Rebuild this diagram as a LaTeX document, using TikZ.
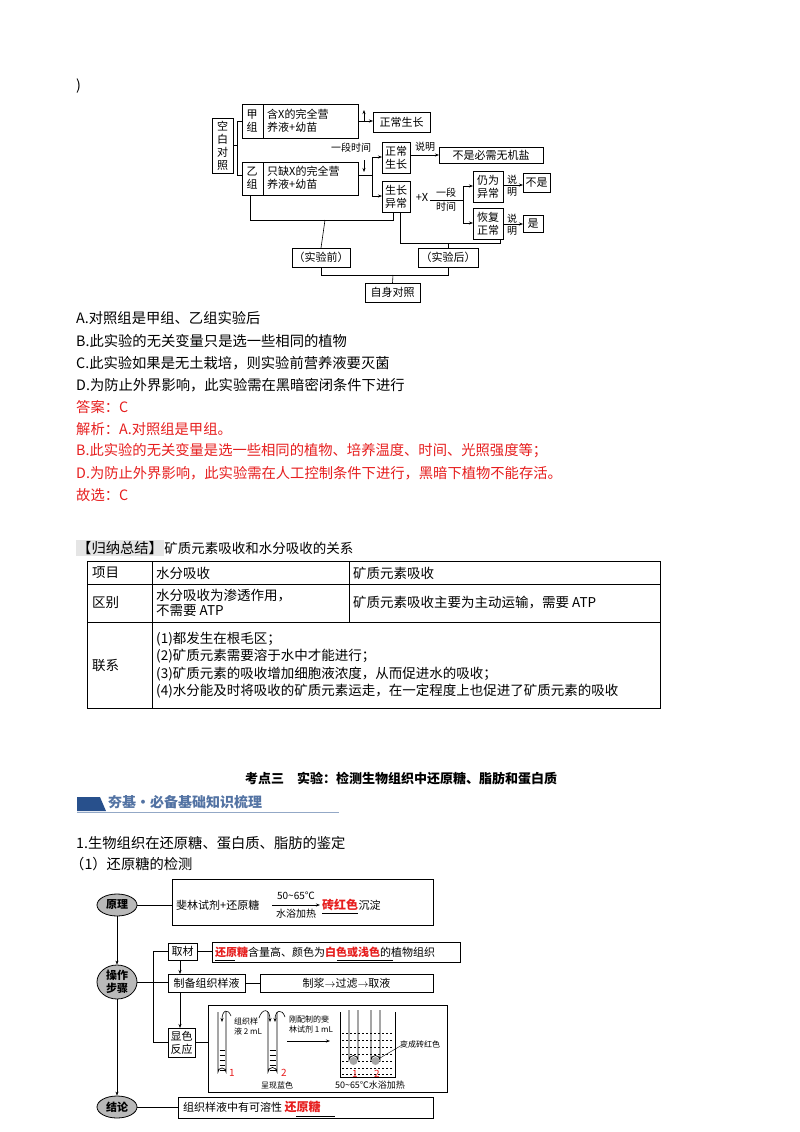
\documentclass[tikz,border=0pt]{standalone}
\usepackage{fontspec}
\setmainfont{Noto Sans CJK SC}
\usetikzlibrary{arrows.meta,shapes.geometric}
\definecolor{ansred}{RGB}{230,30,30}
\definecolor{bannerblue}{RGB}{40,80,140}
\newcommand\Bx[7][]{\node[box,#1,minimum width={(#5-#3)*1pt},minimum height={(#6-#4)*1pt}] (#2) at ({(#3+#5)/2},{(#4+#6)/2}) {#7};}
\begin{document}
\begin{tikzpicture}[x=1pt,y=-1pt,
  box/.style={draw,line width=0.6pt,inner sep=0pt,outer sep=0pt,align=center,font=\fontsize{11}{13}\selectfont},
  ln/.style={line width=0.6pt},
  ar/.style={line width=0.6pt,-{Stealth[length=4pt,width=3pt]}},
  txt/.style={anchor=west,inner sep=0pt,font=\fontsize{14.3}{16}\selectfont},
  tt/.style={anchor=west,inner sep=0pt,font=\fontsize{13.5}{15}\selectfont},
  sm/.style={inner sep=0pt,font=\fontsize{10}{12}\selectfont},
  ell/.style={ellipse,draw,fill=gray!55,line width=0.8pt,inner sep=0pt,font=\fontsize{11}{13}\selectfont\bfseries}]
\useasboundingbox (0,0) rectangle (800,1132);
\node[txt] (paren) at (76,86) {)};
% ---------- top diagram
\Bx{kb}{212}{118}{233}{173}{空\\白\\对\\照}
\Bx{jia}{242}{104}{358}{138}{}
\Bx{yi}{242}{162}{358}{195}{}
\draw[ln] (263,104)--(263,138) (263,162)--(263,195);
\node[sm,font=\fontsize{11}{13}\selectfont,align=center] (jl) at (252,121) {甲\\组};
\node[sm,font=\fontsize{11}{13}\selectfont,align=left,anchor=west] (jt) at (267,121) {含X的完全营\\养液+幼苗};
\node[sm,font=\fontsize{11}{13}\selectfont,align=center] (yl) at (252,178) {乙\\组};
\node[sm,font=\fontsize{11}{13}\selectfont,align=left,anchor=west] (yt) at (267,178) {只缺X的完全营\\养液+幼苗};
\draw[ln] (kb.east) -- (237,145.5) (237,121)--(237,175) (237,121)--(jia.west|-237,121) (237,175)--(yi.west|-237,175);
\Bx{zc1}{373}{112}{430}{132}{正常生长}
\coordinate (v1) at (364,121);
\draw[ln] (358,121)--(v1);
\draw[ar] (v1)--(364,110);
\draw[ar] (364,116)--(364,121)--(zc1.west|-364,121);
\draw[ar] (364,160)--(364,172);
\node[sm,fill=white,inner sep=1pt] (ydsj) at (351,148) {一段时间};
\Bx{zc2}{382}{142}{410}{173}{正常\\生长}
\Bx{yc}{382}{181}{410}{212}{生长\\异常}
\draw[ln] (358,175)--(372,175) (372,157)--(372,196);
\draw[ar] (372,157)--(zc2.west|-372,157);
\draw[ar] (372,196)--(yc.west|-372,196);
\Bx{bs}{439}{147}{543}{163}{不是必需无机盐}
\draw[ar] (zc2.east|-0,155)--(bs.west|-0,155);
\node[sm] (sm1) at (425,147) {说明};
\node[sm,font=\fontsize{11}{13}\selectfont] (px) at (422,197) {+X};
\draw[ln] (430,200)--(463,200);
\node[sm] (yd2) at (446,193) {一段};
\node[sm] (sj2) at (446,207) {时间};
\draw[ln] (463,186)--(463,223);
\Bx[line width=1pt]{rw}{473}{171}{503}{202}{仍为\\异常}
\Bx{hf}{473}{208}{503}{239}{恢复\\正常}
\draw[ar] (463,186)--(rw.west|-0,186);
\draw[ar] (463,223)--(hf.west|-0,223);
\Bx{bs2}{523}{173}{550}{192}{不是}
\Bx{shi}{523}{215}{543}{232}{是}
\draw[ar] (rw.east|-0,185)--(bs2.west|-0,185);
\draw[ar] (hf.east|-0,224)--(shi.west|-0,224);
\node[sm,align=center] (sm2) at (512,186) {说\\明};
\node[sm,align=center] (sm3) at (512,225) {说\\明};
\Bx{qian}{292}{248}{350}{267}{（实验前）}
\Bx{hou}{418}{248}{478}{267}{（实验后）}
\Bx{zs}{365}{283}{420}{302}{自身对照}
\draw[ln] (250,195)--(250,220)--(393,220)--(393,212);
\draw[ln] (325,220)--(qian.north);
\draw[ln] (400,212)--(400,243)--(500,243)--(500,239);
\draw[ln] (448,243)--(hou.north);
\draw[ln] (qian.south)--(321,275)--(448,275)--(hou.south);
\draw[ln] (393,275)--(zs.north);
% ---------- options
\node[txt] (oA) at (76,318) {A.对照组是甲组、乙组实验后};
\node[txt] (oB) at (76,341) {B.此实验的无关变量只是选一些相同的植物};
\node[txt] (oC) at (76,363) {C.此实验如果是无土栽培，则实验前营养液要灭菌};
\node[txt] (oD) at (76,385) {D.为防止外界影响，此实验需在黑暗密闭条件下进行};
\node[txt,text=ansred] (an) at (76,407) {答案：C};
\node[txt,text=ansred] (j1) at (76,429) {解析：A.对照组是甲组。};
\node[txt,text=ansred] (j2) at (76,451) {B.此实验的无关变量是选一些相同的植物、培养温度、时间、光照强度等；};
\node[txt,text=ansred] (j3) at (76,473) {D.为防止外界影响，此实验需在人工控制条件下进行，黑暗下植物不能存活。};
\node[txt,text=ansred] (j4) at (76,495) {故选：C};
% ---------- summary table
\node[txt,fill=gray!20,inner sep=1pt] (gn) at (76,548) {【归纳总结】};
\node[tt] (gt) at (gn.east) {矿质元素吸收和水分吸收的关系};
\draw[ln] (87,561) rectangle (660,708);
\draw[ln] (87,584)--(660,584) (87,622)--(660,622) (152,561)--(152,708) (349,561)--(349,622);
\node[tt] (t1) at (92,573) {项目};
\node[tt] (t2) at (156,573) {水分吸收};
\node[tt] (t3) at (353,573) {矿质元素吸收};
\node[tt] (t4) at (92,603) {区别};
\node[tt,align=left] (t5) at (156,603) {水分吸收为渗透作用，\\不需要 ATP};
\node[tt] (t6) at (353,603) {矿质元素吸收主要为主动运输，需要 ATP};
\node[tt] (t7) at (92,665) {联系};
\node[tt,align=left,font=\fontsize{13.5}{17.5}\selectfont] (t8) at (156,665) {(1)都发生在根毛区；\\(2)矿质元素需要溶于水中才能进行；\\(3)矿质元素的吸收增加细胞液浓度，从而促进水的吸收；\\(4)水分能及时将吸收的矿质元素运走，在一定程度上也促进了矿质元素的吸收};
% ---------- heading
\node[inner sep=0pt,font=\fontsize{13}{15}\selectfont\bfseries] (kd) at (401,779) {考点三\quad 实验：检测生物组织中还原糖、脂肪和蛋白质};
\fill[bannerblue] (77,797)--(100,797)--(106,811)--(77,811)--cycle;
\draw[bannerblue!50,line width=0.8pt] (77,812)--(339,812);
\node[txt,text=bannerblue!80,font=\fontsize{14}{16}\selectfont\bfseries] (hj) at (108,802) {夯基·必备基础知识梳理};
\node[txt] (s1) at (76,843) {1.生物组织在还原糖、蛋白质、脂肪的鉴定};
\node[txt] (s2) at (70,864) {（1）还原糖的检测};
% ---------- bottom diagram
\node[ell,minimum width=40pt,minimum height=22pt] (yl2) at (117,905) {原理};
\node[ell,minimum width=40pt,minimum height=34pt,align=center] (cz) at (117,982) {操作\\步骤};
\node[ell,minimum width=40pt,minimum height=22pt] (jl2) at (117,1107) {结论};
\Bx{ylb}{172}{879}{433}{925}{}
\draw[ln] (yl2.east)--(ylb.west|-yl2.east);
\node[txt,font=\fontsize{11}{13}\selectfont] (fx) at (176,905) {斐林试剂+还原糖};
\draw[ar] (272,905)--(320,905);
\node[sm] (t50) at (296,896) {50\textasciitilde 65℃};
\node[sm] (sy) at (296,914) {水浴加热};
\node[txt,font=\fontsize{12}{14}\selectfont\bfseries,text=ansred] (zh) at (322,905) {砖红色};
\draw[ln] (322,913)--(358,913);
\node[txt,font=\fontsize{11}{13}\selectfont] (cd) at (zh.east) {沉淀};
\draw[ar] (yl2.south)--(cz.north);
\draw[ar] (cz.south)--(jl2.north);
\Bx{qc}{168}{943}{197}{960}{取材}
\Bx{qct}{212}{942}{460}{962}{}
\node[txt,font=\fontsize{11}{13}\selectfont] (qx) at (215,952) {\textcolor{ansred}{\bfseries 还原糖}含量高、颜色为\textcolor{ansred}{\bfseries 白色或浅色}的植物组织};
\draw[ln] (215,960)--(235,960) (337,960)--(393,960);
\draw[ln] (qc.east)--(qct.west|-qc.east);
\Bx{zb}{168}{974}{245}{992}{制备组织样液}
\Bx{zbt}{260}{974}{433}{992}{制浆$\rightarrow$过滤$\rightarrow$取液}
\draw[ar] (180,960)--(180,974);
\draw[ln] (cz.east)--(zb.west|-cz.east);
\draw[ln] (zb.east)--(zbt.west|-zb.east);
\Bx{xs}{168}{1028}{195}{1057}{显色\\反应}
\draw[ar] (180,992)--(180,1028);
\draw[ln] (qc.west)--(153,951.5)--(153,1042)--(xs.west|-0,1042);
\Bx{pic}{208}{1005}{447}{1092}{}
\draw[ln] (xs.east)--(pic.west|-xs.east);
% tubes
\draw[line width=0.7pt] (218,1012)--(218,1072) arc[start angle=180,end angle=360,radius=4] -- (226,1012);
\draw[line width=0.7pt] (268,1012)--(268,1072) arc[start angle=180,end angle=360,radius=4.5] -- (277,1012);
\foreach \yy in {1050,1055,1060,1065,1070}{\draw[line width=0.4pt] (219.5,\yy)--(224.5,\yy); \draw[line width=0.4pt] (269.5,\yy)--(275.5,\yy);}
\draw[ar] (231,1016) .. controls (228,1008) and (222,1010) .. (222,1022);
\draw[ar] (259,1018) .. controls (262,1008) and (270,1008) .. (270,1022);
\draw[ar] (285,1017) .. controls (282,1008) and (275,1010) .. (275,1022);
\node[sm,font=\fontsize{8}{10}\selectfont,align=left] (l1) at (248,1026) {组织样\\液 2 mL};
\node[sm,font=\fontsize{8}{10}\selectfont,align=left] (l2) at (311,1024) {刚配制的斐\\林试剂 1 mL};
\draw[ar] (287,1041)--(330,1041);
\node[sm,text=ansred] (n1) at (232,1073) {1};
\node[sm,text=ansred] (n2) at (284,1073) {2};
\node[sm,font=\fontsize{8}{10}\selectfont] (cx) at (277,1085) {呈现蓝色};
% beaker
\draw[line width=0.7pt] (340,1012)--(340,1077)--(395,1077)--(395,1012);
\foreach \yy in {1033,1040,1047,1054,1061,1068,1074}{\draw[line width=0.4pt,dash pattern=on 2pt off 2pt] (342,\yy)--(393,\yy);}
\draw[line width=0.7pt] (349,1010)--(349,1060) arc[start angle=180,end angle=360,radius=4.5]--(358,1010);
\draw[line width=0.7pt] (371,1010)--(371,1060) arc[start angle=180,end angle=360,radius=4.5]--(380,1010);
\fill[gray!70] (353.5,1061) circle (4);
\fill[gray!70] (375.5,1061) circle (4);
\draw[line width=0.4pt] (380,1058)--(402,1045);
\node[sm,font=\fontsize{8}{10}\selectfont] (bc) at (420,1044) {变成砖红色};
\node[sm,text=ansred] (n3) at (355,1074) {1};
\node[sm,text=ansred] (n4) at (377,1074) {2};
\node[sm,font=\fontsize{9}{11}\selectfont] (sy2) at (370,1085) {50\textasciitilde 65℃水浴加热};
\Bx{jlb}{178}{1097}{433}{1118}{}
\draw[ln] (jl2.east)--(jlb.west|-jl2.east);
\node[txt,font=\fontsize{11}{13}\selectfont] (jt2) at (183,1107) {组织样液中有可溶性 \textcolor{ansred}{\bfseries\fontsize{12}{14}\selectfont 还原糖}};
\draw[ln] (296,1116)--(335,1116);
\end{tikzpicture}
\end{document}
